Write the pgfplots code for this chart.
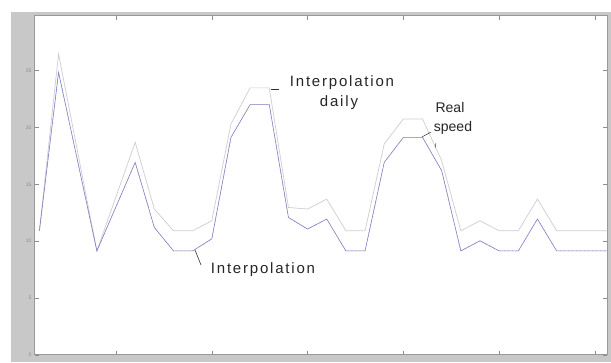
\documentclass[border=0pt]{standalone}
\usepackage{fontspec}
\setmainfont{Liberation Sans}
\usepackage{pgfplots}
\pgfplotsset{compat=1.18}
\definecolor{realblue}{RGB}{125,125,205}
\definecolor{dailygray}{RGB}{205,205,212}
\definecolor{figgray}{RGB}{200,200,200}
\pgfplotstableread{
d v
1 10.92
2 24.85
4 9.15
6 16.93
7 11.21
8 9.15
9 9.15
10 10.21
11 19.13
12 22.01
13 22.01
14 12.09
15 11.07
16 11.95
17 9.15
18 9.15
19 16.93
20 19.13
21 19.13
22 16.20
23 9.15
24 10.04
25 9.15
26 9.15
27 11.95
28 9.15
31 9.15
}\realdata
\pgfplotstableread{
d v
1 10.92
2 26.47
4 9.15
6 18.69
7 12.83
8 10.92
9 10.92
10 11.80
11 20.31
12 23.48
13 23.48
14 12.97
15 12.83
16 13.71
17 10.92
18 10.92
19 18.55
20 20.75
21 20.75
22 17.08
23 10.92
24 11.80
25 10.92
26 10.92
27 13.71
28 10.92
31 10.92
}\dailydata
\begin{document}
\begin{tikzpicture}[x=1pt,y=1pt]
\fill[white] (0,0) rectangle (611,362);
\fill[figgray] (11,0) rectangle (611,350);
\begin{axis}[
  at={(35pt,7pt)}, anchor=south west,
  width=572pt, height=339pt, scale only axis,
  xmin=0.77, xmax=30.63, ymin=0, ymax=29.8,
  axis background/.style={fill=white},
  axis line style={black!40, line width=1pt},
  xtick={5,10,...,30}, xticklabels={},
  ytick={0,5,...,25},
  tick align=inside,
  major tick length=4pt,
  tick style={black!45, line width=0.5pt},
  yticklabel style={font=\fontsize{5}{5}\selectfont, text=black!45},
  /pgf/number format/assume math mode=true,
  clip=true,
]
\addplot[dailygray, line width=0.7pt] table[x=d,y=v] {\dailydata};
\addplot[realblue, line width=0.6pt] table[x=d,y=v] {\realdata};
\addplot[black!40, line width=0.45pt, dash pattern=on 1pt off 3pt] table[x=d,y=v] {\realdata};
\end{axis}
\begin{scope}[every node/.style={text=black!85, inner sep=0pt}]
\node[font=\fontsize{15}{15}\selectfont\addfontfeature{LetterSpace=12}] at (342,279) {Interpolation};
\node[font=\fontsize{15}{15}\selectfont\addfontfeature{LetterSpace=12}] at (339,259) {daily};
\draw[black!80, line width=0.6pt] (271,273) -- (279,273);
\node[font=\fontsize{14}{14}\selectfont] at (450,255) {Real};
\node[font=\fontsize{14}{14}\selectfont] at (453,234) {speed};
\draw[black!80, line width=0.5pt] (422,225) -- (431,230);
\draw[black!70, line width=0.5pt] (435,214) -- (436,219);
\node[font=\fontsize{15}{15}\selectfont\addfontfeature{LetterSpace=12}] at (263,92) {Interpolation};
\draw[black!80, line width=0.6pt] (195,112) -- (201,97);
\end{scope}
\end{tikzpicture}
\end{document}
